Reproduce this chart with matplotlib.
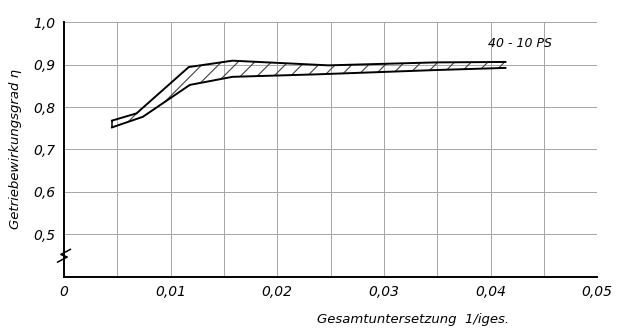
import numpy as np
import matplotlib.pyplot as plt

# upper / lower bound of the efficiency band (40 - 10 PS)
X_UPPER = [0.0045, 0.0068, 0.0117, 0.0158, 0.0248, 0.0349, 0.0414]
Y_UPPER = [0.768, 0.785, 0.894, 0.909, 0.898, 0.905, 0.906]
X_LOWER = [0.0045, 0.0074, 0.0118, 0.0158, 0.0239, 0.0349, 0.0414]
Y_LOWER = [0.752, 0.777, 0.852, 0.871, 0.877, 0.887, 0.892]

X_TICKS = [0, 0.01, 0.02, 0.03, 0.04, 0.05]
X_LABELS = ["0", "0,01", "0,02", "0,03", "0,04", "0,05"]
Y_TICKS = [0.5, 0.6, 0.7, 0.8, 0.9, 1.0]
Y_LABELS = ["0,5", "0,6", "0,7", "0,8", "0,9", "1,0"]
BAND_LABEL = "40 - 10 PS"

plt.rcParams["font.family"] = "DejaVu Sans"
plt.rcParams["font.style"] = "italic"
plt.rcParams["hatch.linewidth"] = 0.8

fig = plt.figure(figsize=(6.25, 3.32), dpi=100)
ax = fig.add_axes([0.1024, 0.1657, 0.853, 0.768])

# grid
for gx in np.arange(0.005, 0.0501, 0.005):
    ax.plot([gx, gx], [0.4, 1.0], color="0.65", lw=0.7, zorder=1)
for gy in Y_TICKS:
    ax.plot([0, 0.05], [gy, gy], color="0.65", lw=0.7, zorder=1)

# common x grid for the hatched band
xs = np.union1d(X_UPPER, X_LOWER)
yu = np.interp(xs, X_UPPER, Y_UPPER)
yl = np.interp(xs, X_LOWER, Y_LOWER)
ax.fill_between(xs, yl, yu, facecolor="none", edgecolor="0.25", hatch="//", lw=0, zorder=2)
ax.plot(X_UPPER, Y_UPPER, color="black", lw=1.4, zorder=3)
ax.plot(X_LOWER, Y_LOWER, color="black", lw=1.4, zorder=3)
ax.plot([X_UPPER[0], X_LOWER[0]], [Y_UPPER[0], Y_LOWER[0]], color="black", lw=1.1, zorder=3)

ax.text(0.0398, 0.949, BAND_LABEL, fontsize=9, va="center", ha="left")

ax.set_xlim(0, 0.05)
ax.set_ylim(0.4, 1.0)
ax.set_xticks(X_TICKS)
ax.set_xticklabels(X_LABELS, fontsize=10)
ax.set_yticks(Y_TICKS)
ax.set_yticklabels(Y_LABELS, fontsize=10)
ax.tick_params(axis="both", length=0, pad=6)

for side in ["top", "right"]:
    ax.spines[side].set_visible(False)
ax.spines["left"].set_linewidth(1.4)
ax.spines["bottom"].set_linewidth(1.4)

# axis break mark on the y axis
ax.plot([-0.0006, 0.0003, -0.0003, 0.0006], [0.435, 0.447, 0.453, 0.465],
        color="black", lw=1.1, clip_on=False, zorder=4)

ax.set_ylabel("Getriebewirkungsgrad η", fontsize=9.5, labelpad=8)
ax.set_xlabel("Gesamtuntersetzung  1/iges.", fontsize=9.5)
ax.xaxis.set_label_coords(0.655, -0.14)

fig.savefig("out.png", dpi=100)
